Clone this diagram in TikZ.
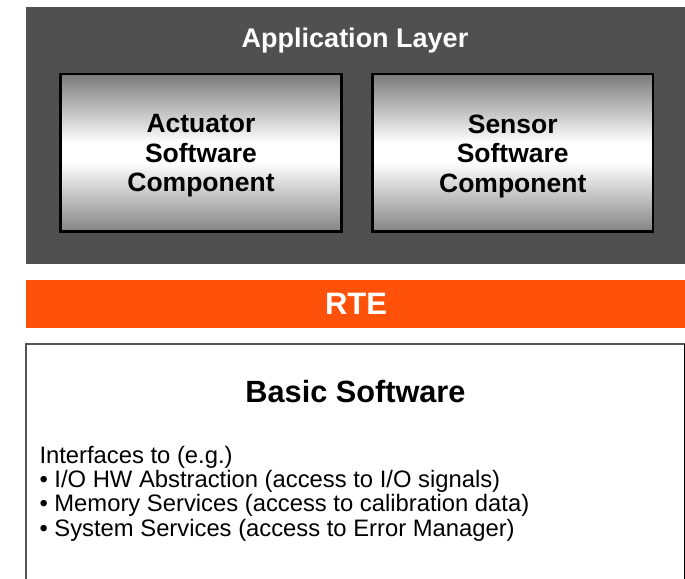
\documentclass[tikz,border=0pt]{standalone}
\usepackage{fontspec}
\setmainfont{Liberation Sans}
\definecolor{darkbg}{RGB}{80,80,80}
\definecolor{rteorange}{RGB}{255,81,10}
\definecolor{basicedge}{RGB}{85,85,85}
\definecolor{gtop}{RGB}{122,122,122}
\definecolor{gbot}{RGB}{132,132,132}
\pgfdeclareverticalshading{swcshade}{100bp}{color(0bp)=(gbot); color(25bp)=(gbot); color(47bp)=(white); color(53bp)=(white); color(75bp)=(gtop); color(100bp)=(gtop)}
\tikzset{
  layerbox/.style={rectangle, inner sep=0pt, outer sep=0pt, fill=darkbg, draw=none},
  compbox/.style={rectangle, inner sep=0pt, outer sep=0pt, draw=black, line width=2.7pt, shading=swcshade, minimum width=280.5pt, minimum height=157.3pt},
  comptext/.style={align=center, inner sep=0pt, font=\bfseries\fontsize{26.5}{29.5}\selectfont},
  rtebox/.style={rectangle, inner sep=0pt, outer sep=0pt, fill=rteorange, draw=none, text=white, font=\bfseries\fontsize{31}{36}\selectfont},
  bswbox/.style={rectangle, inner sep=0pt, outer sep=0pt, fill=white, draw=basicedge, line width=1.8pt},
  bodytext/.style={anchor=base west, inner sep=0pt, font=\fontsize{23.8}{24}\selectfont},
}
\begin{document}
\begin{tikzpicture}[x=1pt,y=-1pt]
\useasboundingbox (0,0) rectangle (685,578);
% Application layer
\node[layerbox, minimum width=660pt, minimum height=256.4pt] (app) at (356,135.5) {};
\node[anchor=base, inner sep=0pt, text=white, font=\bfseries\fontsize{27}{32}\selectfont] (apptitle) at (355,47.3) {Application Layer};
\node[compbox] (act) at (201,152.7) {};
\node[compbox] (sen) at (512.75,152.7) {};
\node[comptext] (acttext) at ([yshift=-3.3pt]act.center) {Actuator\\Software\\Component};
\node[comptext] (sentext) at ([yshift=-3.3pt]sen.center) {Sensor\\Software\\Component};
% RTE
\node[rtebox, minimum width=660pt, minimum height=47.7pt] (rte) at (356,303.85) {RTE};
% Basic software
\node[bswbox, minimum width=658.4pt, minimum height=260pt] (bsw) at (355.2,474.2) {};
\draw[black, line width=1.2pt] (bsw.north east) -- (bsw.south east);
\node[anchor=base, inner sep=0pt, font=\bfseries\fontsize{30.7}{36}\selectfont] (bswtitle) at (355.5,402.3) {Basic Software};
\node[bodytext] (l1) at (39.3,463.3) {Interfaces to (e.g.)};
\node[bodytext] (l2) at (39.3,487.6) {• I/O HW Abstraction (access to I/O signals)};
\node[bodytext] (l3) at (39.3,511.9) {• Memory Services (access to calibration data)};
\node[bodytext] (l4) at (39.3,536.2) {• System Services (access to Error Manager)};
\end{tikzpicture}
\end{document}
